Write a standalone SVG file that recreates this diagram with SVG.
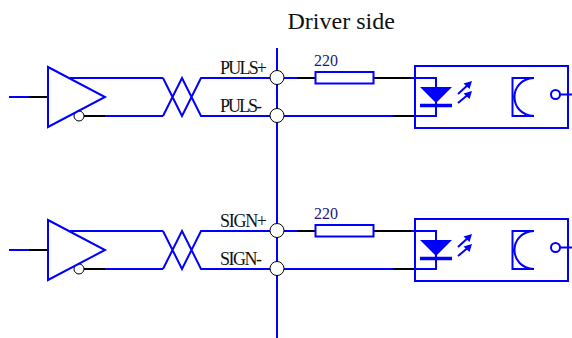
<svg xmlns="http://www.w3.org/2000/svg" width="572" height="338" viewBox="0 0 572 338">
<style>
text{font-family:"Liberation Serif","Times New Roman",serif}
.b{fill:none;stroke:#0000ff;stroke-width:2}
.k{fill:none;stroke:#000;stroke-width:2}
.w{fill:#fff;stroke:#0000ff;stroke-width:2}
.c{fill:#fff;stroke:#000;stroke-width:1}
.l{font-size:18px;fill:#111}
.r{font-size:16px;fill:#1a1a80}
.f{fill:#0000ff}
</style>
<defs>
<g id="driver">
<path class="k" d="M29 97H48M84 116H105"/>
<path class="b" d="M9 97H29M105 116H163M70 78H163"/>
<circle class="c" cx="79" cy="116" r="5"/>
<path class="w" d="M48 67L105 97L48 127Z" fill-opacity="0"/>
</g>
<g id="opto">
<rect class="b" x="415" y="66" width="153" height="62"/>
<path class="b" d="M411 78H436V116H415"/>
<path class="f" d="M420 87H452L436 103Z"/>
<path class="b" style="stroke-width:3.500" d="M420 105.500H452"/>
<path class="b" d="M458 94L470 83M458 103L470 93"/>
<path class="f" d="M472 81L463.500 83.500L469.500 89ZM472 91L463.500 93.500L469.500 99Z"/>
<path class="b" d="M534 78H512.500V116H534M534 78C508 79 508 115 534 116"/>
<circle cx="555.500" cy="94.500" r="4.500" fill="#fff" stroke="#0000ff" stroke-width="2"/>
<path class="b" d="M560 94.500H572"/>
</g>
</defs>
<g id="connectors">
<path class="b" d="M277 48V338"/>
<path class="b" d="M163 78L182 116L201 78H285M163 116L182 78L201 116H285"/>
<path class="b" d="M163 231L182 269L201 231H285M163 269L182 231L201 269H285"/>
<path class="b" d="M285 78H297M285 116H393M285 231H297M285 269H393"/>
<path class="k" d="M297 78H315M373 78H411M393 116H415M297 231H315M373 231H411M393 269H415"/>
</g>
<g id="driver-1"><use href="#driver"/></g>
<g id="driver-2"><use href="#driver" transform="translate(0,153)"/></g>
<g id="terminal-puls-plus"><circle class="c" cx="277" cy="77.500" r="7"/><text class="l" x="220" y="73.500" textLength="47">PULS+</text></g>
<g id="terminal-puls-minus"><circle class="c" cx="277" cy="115.500" r="7"/><text class="l" x="220" y="111.500" textLength="42">PULS-</text></g>
<g id="terminal-sign-plus"><circle class="c" cx="277" cy="230.500" r="7"/><text class="l" x="220" y="226.500" textLength="47">SIGN+</text></g>
<g id="terminal-sign-minus"><circle class="c" cx="277" cy="268.500" r="7"/><text class="l" x="220" y="264.500" textLength="42">SIGN-</text></g>
<g id="resistor-1"><rect class="w" x="315.500" y="72" width="58" height="11.500"/><text class="r" x="314" y="66">220</text></g>
<g id="resistor-2"><rect class="w" x="315.500" y="225" width="58" height="11.500"/><text class="r" x="314" y="219">220</text></g>
<g id="opto-1"><use href="#opto"/></g>
<g id="opto-2"><use href="#opto" transform="translate(0,153)"/></g>
<g id="title"><text x="287.500" y="29" font-size="24" fill="#111">Driver side</text></g>
</svg>
